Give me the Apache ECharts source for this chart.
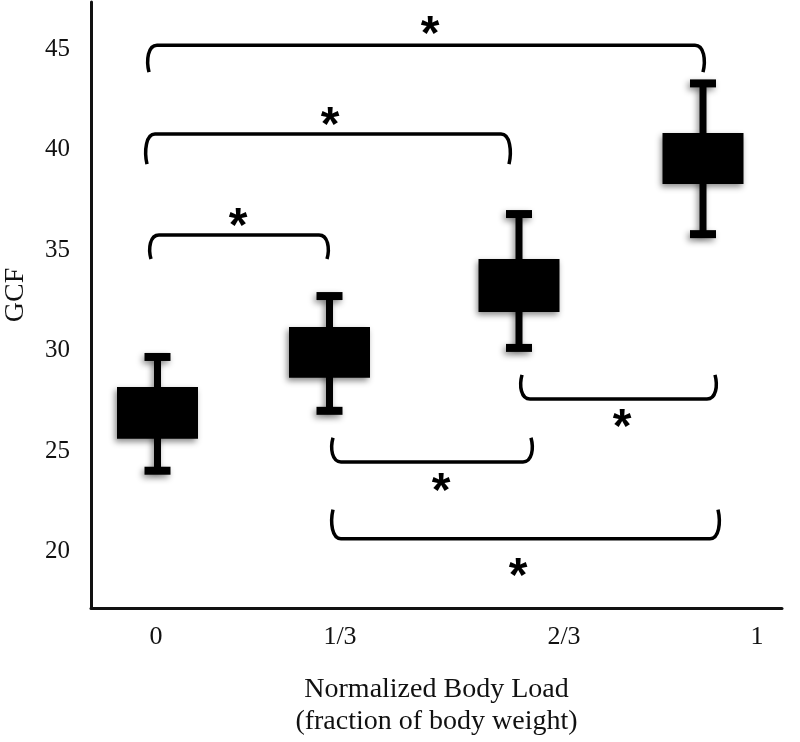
<!DOCTYPE html>
<html>
<head>
<meta charset="utf-8">
<script src="https://cdn.jsdelivr.net/npm/echarts@6/dist/echarts.min.js"></script>
<style>html,body{margin:0;padding:0;background:#fff;}#c{width:800px;height:742px;}</style>
</head>
<body>
<div id="c"></div>
<script>
// Categories and tick labels
const categories = ['0', '1/3', '2/3', '1'];
// Horizontal positions (axis units) of boxes and of tick labels
const boxPos = [66.5, 238.5, 428, 612];
const labelPos = [65, 249, 473, 666];
// GCF box values
const whiskerLow  = [24.03, 27.01, 30.14, 35.80];
const boxLow      = [25.62, 28.65, 31.93, 38.29];
const boxHigh     = [28.20, 31.18, 34.56, 40.83];
const whiskerHigh = [29.69, 32.72, 36.80, 43.30];
// Y tick labels
const yTicks = [20, 25, 30, 35, 40, 45];
// Significance brackets: from x, to x, line level, end level
const bracketFrom = [58, 56, 60, 431, 242, 242];
const bracketTo   = [612, 418, 236, 624, 440, 627];
const bracketLine = [45.20, 40.78, 35.76, 27.60, 24.47, 20.65];
const bracketEnd  = [43.86, 39.28, 34.56, 28.80, 25.67, 22.09];
const starX = [339, 239, 147, 531, 350, 427];
const starY = [46.19, 41.62, 36.60, 26.61, 23.43, 19.20];

const boxData = boxPos.map((x, i) => [x, whiskerLow[i], boxLow[i], boxHigh[i], whiskerHigh[i]]);
const bracketData = bracketFrom.map((x, i) => [x, bracketTo[i], bracketLine[i], bracketEnd[i]]);
const starData = starX.map((x, i) => [x, starY[i]]);

const chart = echarts.init(document.getElementById('c'));
const shadow = {shadowBlur: 6, shadowOffsetX: -2, shadowOffsetY: 3, shadowColor: 'rgba(0,0,0,0.45)'};

chart.setOption({
  animation: false,
  backgroundColor: '#fff',
  grid: {left: 91, right: 18, top: 2, bottom: 134, containLabel: false, outerBoundsMode: 'none'},
  xAxis: {
    type: 'value', min: 0, max: 691,
    splitLine: {show: false},
    axisTick: {show: false},
    axisLine: {show: true, onZero: false, lineStyle: {color: '#111', width: 3}},
    axisLabel: {
      customValues: labelPos,
      formatter: v => { const i = labelPos.indexOf(v); return i >= 0 ? categories[i] : ''; },
      color: '#111', fontFamily: 'Liberation Serif', fontSize: 26, margin: 16
    },
    name: 'Normalized Body Load\n(fraction of body weight)',
    nameLocation: 'middle', nameGap: 66,
    nameTextStyle: {color: '#111', fontFamily: 'Liberation Serif', fontSize: 28, lineHeight: 32}
  },
  yAxis: {
    type: 'value', min: 17.2, max: 47.35,
    splitLine: {show: false},
    axisTick: {show: false},
    axisLine: {show: true, onZero: false, lineStyle: {color: '#111', width: 3}},
    axisLabel: {
      customValues: yTicks,
      color: '#111', fontFamily: 'Liberation Serif', fontSize: 25, margin: 21
    },
    name: 'GCF', nameLocation: 'middle', nameGap: 61, nameRotate: 90,
    nameTextStyle: {color: '#111', fontFamily: 'Liberation Serif', fontSize: 28, padding: [0, 0, 0, 20]}
  },
  series: [
    {
      type: 'custom', data: boxData, clip: false,
      renderItem: (params, api) => {
        const x = api.value(0);
        const pLow = api.coord([x, api.value(1)]);
        const pBL = api.coord([x, api.value(2)]);
        const pBH = api.coord([x, api.value(3)]);
        const pHigh = api.coord([x, api.value(4)]);
        const bw = 81, cw = 26, ch = 8;
        return {
          type: 'group',
          children: [
            {type: 'line', shape: {x1: pLow[0], y1: pLow[1], x2: pHigh[0], y2: pHigh[1]},
             style: Object.assign({stroke: '#000', lineWidth: 7}, shadow)},
            {type: 'rect', shape: {x: pHigh[0] - cw / 2, y: pHigh[1] - ch / 2, width: cw, height: ch},
             style: Object.assign({fill: '#000'}, shadow)},
            {type: 'rect', shape: {x: pLow[0] - cw / 2, y: pLow[1] - ch / 2, width: cw, height: ch},
             style: Object.assign({fill: '#000'}, shadow)},
            {type: 'rect', shape: {x: pBH[0] - bw / 2, y: pBH[1], width: bw, height: pBL[1] - pBH[1]},
             style: Object.assign({fill: '#000'}, shadow)}
          ]
        };
      }
    },
    {
      type: 'custom', data: bracketData, clip: false,
      renderItem: (params, api) => {
        const a = api.coord([api.value(0), api.value(2)]);
        const b = api.coord([api.value(1), api.value(2)]);
        const e = api.coord([api.value(0), api.value(3)]);
        const yl = a[1], ye = e[1];
        const x1 = a[0], x2 = b[0];
        const r = 8;
        const d = ye - yl;
        const path =
          'M' + x1 + ',' + ye +
          ' C' + (x1 - 3) + ',' + (ye - d * 0.45) + ' ' + (x1 - 1) + ',' + yl + ' ' + (x1 + r) + ',' + yl +
          ' L' + (x2 - r) + ',' + yl +
          ' C' + (x2 + 1) + ',' + yl + ' ' + (x2 + 3) + ',' + (ye - d * 0.45) + ' ' + x2 + ',' + ye;
        return {type: 'path', shape: {pathData: path},
                style: {stroke: '#000', lineWidth: 3.5, fill: null, lineCap: 'butt'}};
      }
    },
    {
      type: 'custom', data: starData, clip: false,
      renderItem: (params, api) => {
        const p = api.coord([api.value(0), api.value(1)]);
        return {type: 'text', x: p[0], y: p[1] + 10,
                style: {text: '*', fill: '#000', font: 'bold 48px "Liberation Sans"', align: 'center', verticalAlign: 'middle'}};
      }
    }
  ]
});
</script>
</body>
</html>
